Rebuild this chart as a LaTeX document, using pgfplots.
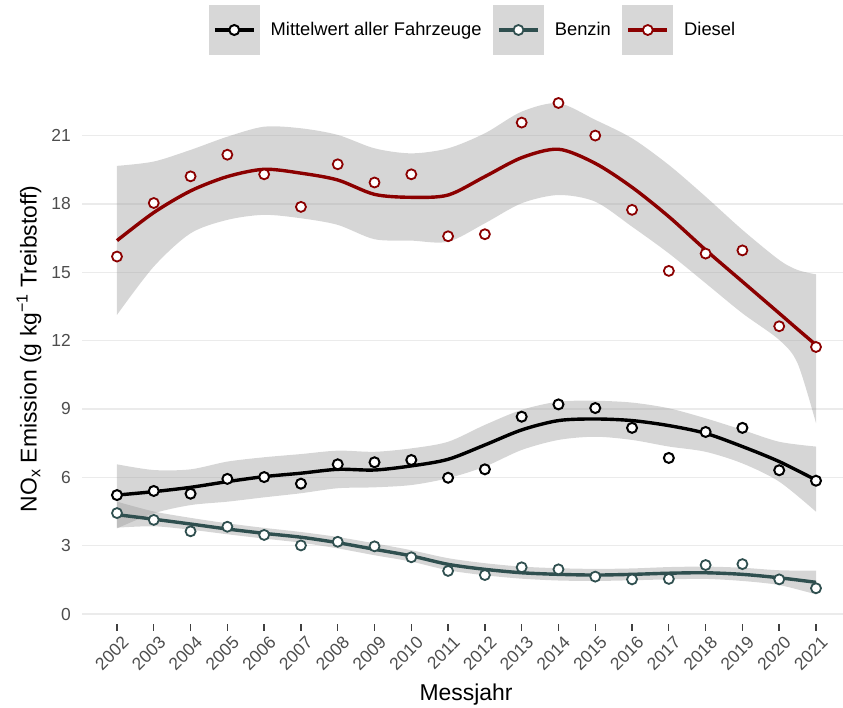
\documentclass[border=0pt]{standalone}
\usepackage{fontspec}
\setmainfont{Liberation Sans}
\usepackage{pgfplots}
\pgfplotsset{compat=1.18}
\usepackage{pgfplotstable}
\usepgfplotslibrary{fillbetween}
\definecolor{diesel}{RGB}{139,0,0}
\definecolor{benzin}{RGB}{47,79,79}
\definecolor{bandc}{RGB}{153,153,153}
\definecolor{gridc}{RGB}{235,235,235}
\definecolor{tickc}{RGB}{77,77,77}
\definecolor{keybg}{RGB}{215,215,215}

\pgfplotstableread{
year m b d
2002 5.22 4.43 15.69
2003 5.40 4.13 18.04
2004 5.28 3.63 19.21
2005 5.93 3.83 20.16
2006 6.01 3.47 19.30
2007 5.72 3.01 17.87
2008 6.57 3.17 19.74
2009 6.66 2.97 18.94
2010 6.76 2.49 19.30
2011 5.98 1.89 16.58
2012 6.35 1.71 16.67
2013 8.66 2.05 21.57
2014 9.20 1.96 22.43
2015 9.04 1.64 21.00
2016 8.17 1.52 17.74
2017 6.85 1.54 15.06
2018 7.99 2.15 15.82
2019 8.17 2.19 15.96
2020 6.31 1.52 12.63
2021 5.85 1.13 11.72
}\pts

\pgfplotstableread{
year fit up lo
2002 5.22 6.57 3.76
2003 5.37 6.32 4.42
2004 5.56 6.35 4.78
2005 5.81 6.69 4.93
2006 6.03 6.88 5.12
2007 6.18 7.02 5.30
2008 6.35 7.17 5.52
2009 6.32 7.12 5.56
2010 6.50 7.27 5.66
2011 6.79 7.56 5.96
2012 7.42 8.30 6.47
2013 8.08 8.96 7.20
2014 8.49 9.32 7.64
2015 8.56 9.36 7.78
2016 8.49 9.28 7.64
2017 8.27 9.03 7.35
2018 7.93 8.59 7.12
2019 7.35 8.08 6.61
2020 6.69 7.56 5.81
2021 5.88 7.35 4.49
}\mittel

\pgfplotstableread{
year fit up lo
2002 4.36 4.93 3.79
2003 4.16 4.50 3.85
2004 3.95 4.22 3.70
2005 3.73 3.98 3.50
2006 3.54 3.78 3.31
2007 3.37 3.60 3.13
2008 3.13 3.38 2.88
2009 2.84 3.10 2.58
2010 2.55 2.80 2.30
2011 2.18 2.45 1.92
2012 1.96 2.23 1.70
2013 1.81 2.08 1.55
2014 1.74 2.01 1.47
2015 1.71 1.98 1.45
2016 1.74 2.00 1.48
2017 1.79 2.06 1.52
2018 1.81 2.08 1.54
2019 1.74 2.03 1.45
2020 1.59 1.92 1.27
2021 1.39 1.90 0.86
}\benzin

\pgfplotstableread{
year fit up lo
2002 16.39 19.67 13.13
2003 17.62 19.86 15.25
2004 18.57 20.37 16.71
2005 19.20 20.95 17.30
2006 19.52 21.39 17.52
2007 19.35 21.32 17.37
2008 19.05 21.03 17.08
2009 18.42 20.44 16.45
2010 18.29 20.22 16.39
2011 18.39 20.44 16.34
2012 19.20 21.10 17.15
2013 20.03 22.05 18.03
2014 20.40 22.42 18.39
2015 19.78 21.69 18.10
2016 18.73 20.88 17.00
2017 17.44 19.71 15.83
2018 15.98 18.32 14.52
2019 14.59 16.86 13.20
2020 13.20 15.54 12.03
2020.5 12.50 15.10 11.00
2021 11.81 14.91 8.38
}\diesel

\begin{document}
\begin{tikzpicture}
\begin{axis}[
  at={(0,0)}, anchor=south west, scale only axis,
  width=761bp, height=539bp,
  xmin=2001.049, xmax=2021.734, ymin=-0.439, ymax=23.22,
  axis line style={draw=none},
  xtick={2002,...,2021}, ytick={0,3,...,21},
  xtick pos=bottom, ytick pos=left,
  ymajorgrids, grid style={gridc, line width=1.4bp},
  xtick align=outside, ytick align=inside, major tick length=6.5bp,
  xtick style={draw=black!75, line width=1.4bp},
  ytick style={draw=none},
  /pgf/number format/assume math mode=true,
  /pgf/number format/1000 sep={},
  xticklabel style={rotate=45, anchor=north east, inner sep=0pt, yshift=-6bp,
    font=\fontsize{17.5}{17.5}\selectfont, text=tickc},
  yticklabel style={anchor=east, inner sep=0pt, xshift=-11bp,
    font=\fontsize{17.5}{17.5}\selectfont, text=tickc},
  legend columns=3,
  legend cell align=left,
  legend style={at={(0.5125,1.102)}, anchor=center, draw=none, fill=none,
    font=\fontsize{18.4}{21}\selectfont, nodes={inner sep=0pt},
    /tikz/every odd column/.append style={column sep=11bp},
    /tikz/every even column/.append style={column sep=11.5bp}},
  legend image code/.code={
    \fill[keybg] (0bp,-23bp) rectangle (47bp,23bp);
    \draw[mark repeat=2, mark phase=2, #1] plot coordinates {(4bp,0bp) (23.5bp,0bp) (43bp,0bp)};
  },
]
% bands
\addplot[draw=none, smooth, name path=mu, forget plot] table[x=year,y=up]{\mittel};
\addplot[draw=none, smooth, name path=ml, forget plot] table[x=year,y=lo]{\mittel};
\addplot[bandc, fill opacity=0.4, draw=none, forget plot] fill between[of=mu and ml];
\addplot[black, line width=3.4bp, smooth, forget plot] table[x=year,y=fit]{\mittel};

\addplot[draw=none, smooth, name path=bu, forget plot] table[x=year,y=up]{\benzin};
\addplot[draw=none, smooth, name path=bl, forget plot] table[x=year,y=lo]{\benzin};
\addplot[bandc, fill opacity=0.4, draw=none, forget plot] fill between[of=bu and bl];
\addplot[benzin, line width=3.4bp, smooth, forget plot] table[x=year,y=fit]{\benzin};

\addplot[draw=none, smooth, name path=du, forget plot] table[x=year,y=up]{\diesel};
\addplot[draw=none, smooth, name path=dl, forget plot] table[x=year,y=lo]{\diesel};
\addplot[bandc, fill opacity=0.4, draw=none, forget plot] fill between[of=du and dl];
\addplot[diesel, line width=3.4bp, smooth, forget plot] table[x=year,y=fit]{\diesel};

% points
\addplot[only marks, mark=*, mark size=5bp, mark options={fill=white, draw=black, line width=2bp}, forget plot] table[x=year,y=m]{\pts};
\addplot[only marks, mark=*, mark size=5bp, mark options={fill=white, draw=benzin, line width=1.8bp}, forget plot] table[x=year,y=b]{\pts};
\addplot[only marks, mark=*, mark size=5bp, mark options={fill=white, draw=diesel, line width=1.8bp}, forget plot] table[x=year,y=d]{\pts};

% legend
\addlegendimage{black, line width=3.8bp, mark=*, mark size=5bp, mark options={fill=white, draw=black, line width=2bp, solid}}
\addlegendentry{Mittelwert aller Fahrzeuge}
\addlegendimage{benzin, line width=3.8bp, mark=*, mark size=5bp, mark options={fill=white, draw=benzin, line width=1.8bp, solid}}
\addlegendentry{Benzin}
\addlegendimage{diesel, line width=3.8bp, mark=*, mark size=5bp, mark options={fill=white, draw=diesel, line width=1.8bp, solid}}
\addlegendentry{Diesel}
\end{axis}
\node[rotate=90, font=\fontsize{23}{25}\selectfont] at (-53bp,275bp) {NO\textsubscript{x} Emission (g kg\textsuperscript{−1} Treibstoff)};
\node[anchor=base, font=\fontsize{23}{25}\selectfont] at (384bp,-76bp) {Messjahr};
\pgfresetboundingbox
\useasboundingbox (-82bp,-84bp) rectangle (761bp,624bp);
\end{tikzpicture}
\end{document}
